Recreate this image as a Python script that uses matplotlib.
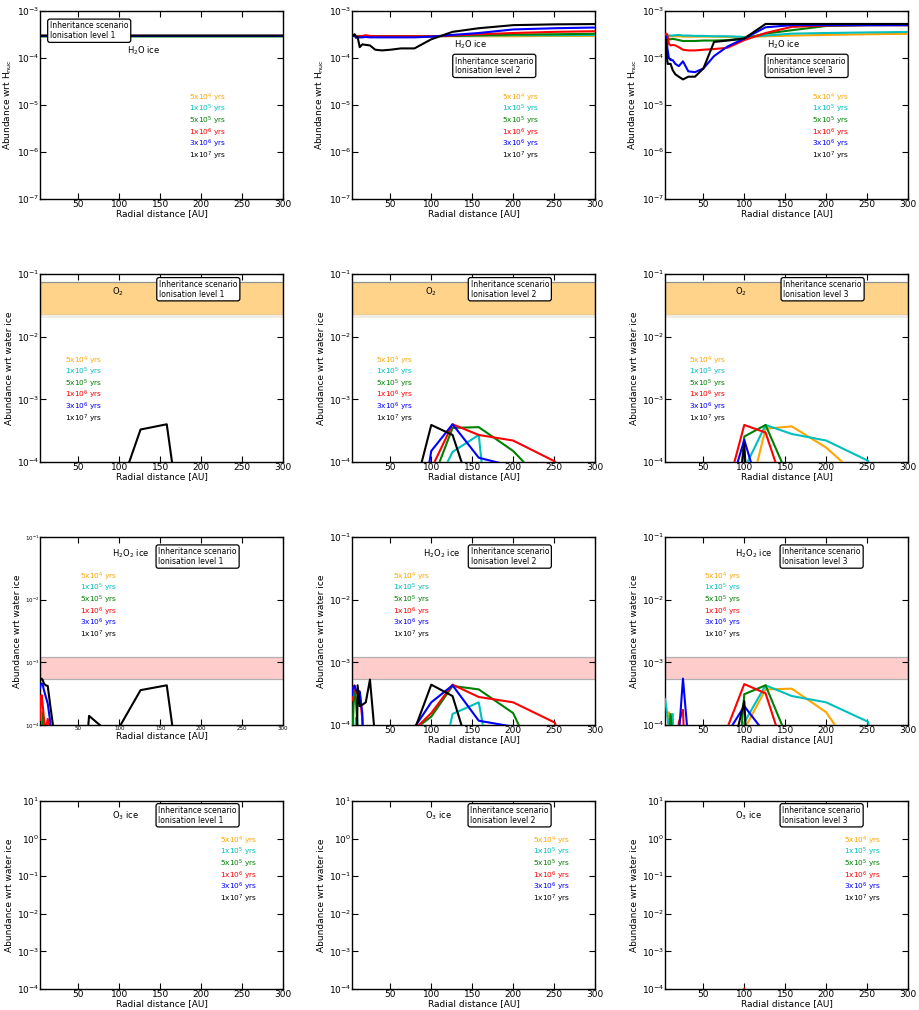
import matplotlib
matplotlib.use('Agg')
import matplotlib.pyplot as plt
from matplotlib.ticker import NullLocator

plt.rcParams['font.family'] = 'DejaVu Sans'
plt.rcParams['mathtext.default'] = 'regular'

# ---------------- data ----------------
ages = ['5x10$^4$ yrs', '1x10$^5$ yrs', '5x10$^5$ yrs', '1x10$^6$ yrs', '3x10$^6$ yrs', '1x10$^7$ yrs']
age_colors = ['#FFA500', '#00BFBF', 'green', 'red', 'blue', 'black']
levels = ['1', '2', '3']
species = ['H$_2$O ice', 'O$_2$', 'H$_2$O$_2$ ice', 'O$_3$ ice']
xticks = [50, 100, 150, 200, 250, 300]

R = [3.16, 3.98, 5.01, 6.31, 7.94, 10.0, 12.6, 15.8, 20.0, 25.1, 31.6, 39.8, 50.1, 63.1, 79.4,
     100.0, 126.0, 158.0, 200.0, 251.0, 316.0]

# H2O ice, level 1
h2o_l1_5e4 = [2.8e-4, 2.9e-4, 2.9e-4, 2.9e-4, 2.9e-4, 2.9e-4, 2.9e-4, 2.9e-4, 2.9e-4, 2.9e-4, 2.9e-4,
              2.9e-4, 2.9e-4, 2.9e-4, 2.9e-4, 2.9e-4, 2.9e-4, 2.9e-4, 2.9e-4, 2.9e-4, 2.9e-4]
h2o_l1_1e5 = [2.8e-4, 2.9e-4, 2.9e-4, 2.9e-4, 2.9e-4, 2.9e-4, 2.9e-4, 2.9e-4, 2.9e-4, 2.9e-4, 2.9e-4,
              2.9e-4, 2.9e-4, 2.9e-4, 2.9e-4, 2.9e-4, 2.9e-4, 2.9e-4, 2.9e-4, 2.9e-4, 2.9e-4]
h2o_l1_5e5 = [2.8e-4, 2.9e-4, 2.9e-4, 2.9e-4, 2.9e-4, 2.9e-4, 2.9e-4, 2.9e-4, 2.9e-4, 2.9e-4, 2.9e-4,
              2.9e-4, 2.9e-4, 2.9e-4, 2.9e-4, 2.9e-4, 2.9e-4, 2.9e-4, 2.9e-4, 2.9e-4, 2.9e-4]
h2o_l1_1e6 = [2.85e-4, 2.95e-4, 2.95e-4, 2.95e-4, 2.95e-4, 2.95e-4, 2.95e-4, 2.95e-4, 2.95e-4, 2.95e-4, 2.95e-4,
              2.95e-4, 2.95e-4, 2.95e-4, 2.95e-4, 2.95e-4, 2.95e-4, 2.95e-4, 2.95e-4, 2.95e-4, 2.95e-4]
h2o_l1_3e6 = [2.85e-4, 2.95e-4, 2.95e-4, 2.95e-4, 2.95e-4, 2.95e-4, 2.95e-4, 2.95e-4, 2.95e-4, 2.95e-4, 2.95e-4,
              2.95e-4, 2.95e-4, 2.95e-4, 2.95e-4, 2.95e-4, 2.95e-4, 2.95e-4, 2.95e-4, 2.95e-4, 2.95e-4]
h2o_l1_1e7 = [2.85e-4, 3.0e-4, 3.0e-4, 3.0e-4, 3.0e-4, 3.0e-4, 3.0e-4, 3.0e-4, 3.0e-4, 3.0e-4, 3.0e-4,
              3.0e-4, 3.0e-4, 3.0e-4, 3.0e-4, 3.0e-4, 3.0e-4, 3.0e-4, 3.0e-4, 3.0e-4, 3.0e-4]

# H2O ice, level 2
h2o_l2_5e4 = [2.9e-4, 3.1e-4, 3.0e-4, 3.1e-4, 2.75e-4, 2.8e-4, 2.85e-4, 2.9e-4, 2.9e-4, 2.9e-4, 2.9e-4,
              2.9e-4, 2.9e-4, 2.9e-4, 2.9e-4, 2.9e-4, 2.9e-4, 2.9e-4, 2.9e-4, 2.95e-4, 2.95e-4]
h2o_l2_1e5 = [2.9e-4, 3.1e-4, 3.0e-4, 3.1e-4, 2.75e-4, 2.8e-4, 2.85e-4, 2.9e-4, 2.9e-4, 2.9e-4, 2.9e-4,
              2.9e-4, 2.9e-4, 2.9e-4, 2.9e-4, 2.9e-4, 2.95e-4, 3.0e-4, 3.05e-4, 3.05e-4, 3.1e-4]
h2o_l2_5e5 = [2.9e-4, 3.1e-4, 3.0e-4, 3.1e-4, 2.8e-4, 2.85e-4, 2.9e-4, 2.9e-4, 2.95e-4, 2.9e-4, 2.9e-4,
              2.9e-4, 2.9e-4, 2.9e-4, 2.9e-4, 2.9e-4, 2.95e-4, 3.05e-4, 3.15e-4, 3.2e-4, 3.3e-4]
h2o_l2_1e6 = [2.9e-4, 3.1e-4, 3.0e-4, 3.1e-4, 2.8e-4, 2.9e-4, 2.9e-4, 2.95e-4, 3.05e-4, 2.95e-4, 2.9e-4,
              2.9e-4, 2.9e-4, 2.9e-4, 2.9e-4, 2.9e-4, 3.0e-4, 3.2e-4, 3.4e-4, 3.6e-4, 3.75e-4]
h2o_l2_3e6 = [2.9e-4, 3.1e-4, 3.0e-4, 3.1e-4, 2.7e-4, 2.75e-4, 2.75e-4, 2.75e-4, 2.8e-4, 2.75e-4, 2.75e-4,
              2.75e-4, 2.75e-4, 2.75e-4, 2.75e-4, 2.85e-4, 3.1e-4, 3.4e-4, 4.05e-4, 4.3e-4, 4.5e-4]
h2o_l2_1e7 = [2.9e-4, 3.1e-4, 3.0e-4, 3.2e-4, 2.9e-4, 2.8e-4, 1.7e-4, 1.95e-4, 1.9e-4, 1.85e-4, 1.5e-4,
              1.45e-4, 1.5e-4, 1.6e-4, 1.6e-4, 2.5e-4, 3.6e-4, 4.3e-4, 5.0e-4, 5.2e-4, 5.3e-4]

# H2O ice, level 3
h2o_l3_5e4 = [2.7e-4, 3.0e-4, 2.95e-4, 2.9e-4, 2.9e-4, 2.9e-4, 2.9e-4, 2.9e-4, 2.9e-4, 2.85e-4, 2.85e-4,
              2.85e-4, 2.85e-4, 2.85e-4, 2.8e-4, 2.8e-4, 2.9e-4, 3.0e-4, 3.1e-4, 3.2e-4, 3.3e-4]
h2o_l3_1e5 = [2.7e-4, 3.1e-4, 3.05e-4, 3.0e-4, 3.0e-4, 3.0e-4, 3.0e-4, 3.05e-4, 3.1e-4, 3.0e-4, 3.0e-4,
              2.95e-4, 2.95e-4, 2.9e-4, 2.9e-4, 2.8e-4, 3.0e-4, 3.3e-4, 3.4e-4, 3.5e-4, 3.6e-4]
h2o_l3_5e5 = [2.8e-4, 3.1e-4, 3.0e-4, 2.7e-4, 2.5e-4, 2.5e-4, 2.55e-4, 2.5e-4, 2.4e-4, 2.3e-4, 2.3e-4,
              2.3e-4, 2.35e-4, 2.35e-4, 2.4e-4, 2.6e-4, 3.3e-4, 3.9e-4, 4.8e-4, 5.0e-4, 5.0e-4]
h2o_l3_1e6 = [2.9e-4, 3.2e-4, 3.3e-4, 3.0e-4, 2.0e-4, 1.85e-4, 1.9e-4, 1.85e-4, 1.7e-4, 1.5e-4, 1.45e-4,
              1.45e-4, 1.5e-4, 1.55e-4, 1.65e-4, 2.4e-4, 3.4e-4, 4.6e-4, 4.9e-4, 5.0e-4, 5.0e-4]
h2o_l3_3e6 = [2.0e-4, 2.9e-4, 2.5e-4, 1.5e-4, 1.0e-4, 9.0e-5, 9.0e-5, 7.5e-5, 6.7e-5, 8.5e-5, 5.2e-5,
              5.0e-5, 6.0e-5, 1.1e-4, 1.75e-4, 2.6e-4, 4.5e-4, 5.0e-4, 5.0e-4, 5.0e-4, 5.0e-4]
h2o_l3_1e7 = [2.2e-4, 2.5e-4, 1.3e-4, 7.5e-5, 7.5e-5, 7.5e-5, 5.5e-5, 4.5e-5, 4.0e-5, 3.5e-5, 4.0e-5,
              4.0e-5, 6.0e-5, 2.2e-4, 2.35e-4, 2.6e-4, 5.3e-4, 5.3e-4, 5.3e-4, 5.3e-4, 5.3e-4]

# O2 ice / water ice (radii, values)
o2_l1_1e7_r = [79.4, 100.0, 126.0, 158.0, 200.0]
o2_l1_1e7 = [1e-7, 3.5e-5, 3.3e-4, 4.0e-4, 4.5e-8]

o2_l2_1e5_r = [100.0, 126.0, 158.0, 200.0]
o2_l2_1e5 = [3e-5, 1.45e-4, 2.7e-4, 1.5e-9]
o2_l2_5e5_r = [79.4, 100.0, 126.0, 158.0, 200.0, 251.0, 316.0]
o2_l2_5e5 = [1e-7, 4.5e-5, 3.5e-4, 3.6e-4, 1.5e-4, 3e-5, 1e-7]
o2_l2_1e6_r = [79.4, 100.0, 126.0, 158.0, 200.0, 251.0, 316.0]
o2_l2_1e6 = [1e-6, 7.8e-5, 4.0e-4, 2.7e-4, 2.2e-4, 1.02e-4, 1e-7]
o2_l2_3e6_r = [79.4, 100.0, 126.0, 158.0, 200.0, 251.0]
o2_l2_3e6 = [3.5e-6, 1.5e-4, 4.0e-4, 1.17e-4, 8.5e-5, 1e-6]
o2_l2_1e7_r = [63.1, 79.4, 100.0, 126.0, 158.0, 200.0]
o2_l2_1e7 = [1e-7, 3.5e-5, 3.9e-4, 2.7e-4, 1.5e-5, 1e-8]

o2_l3_5e4_r = [79.4, 100.0, 126.0, 158.0, 200.0, 251.0, 316.0]
o2_l3_5e4 = [1e-7, 1.4e-5, 3.4e-4, 3.7e-4, 1.7e-4, 4.3e-5, 1e-7]
o2_l3_1e5_r = [79.4, 100.0, 126.0, 158.0, 200.0, 251.0, 316.0]
o2_l3_1e5 = [1e-6, 7.8e-5, 3.9e-4, 2.8e-4, 2.2e-4, 1.05e-4, 1e-7]
o2_l3_5e5_r = [79.4, 100.0, 126.0, 158.0, 200.0]
o2_l3_5e5 = [1e-7, 2.55e-4, 3.9e-4, 4.3e-5, 1e-7]
o2_l3_1e6_r = [63.1, 79.4, 100.0, 126.0, 158.0, 200.0]
o2_l3_1e6 = [1e-7, 3.8e-5, 3.9e-4, 2.95e-4, 1.65e-5, 1e-7]
o2_l3_3e6_r = [63.1, 79.4, 100.0, 126.0, 158.0]
o2_l3_3e6 = [1e-7, 2.8e-5, 2.26e-4, 1.6e-5, 1e-7]
o2_l3_1e7_r = [79.4, 100.0, 126.0]
o2_l3_1e7 = [1e-6, 1.93e-4, 4e-10]

# H2O2 ice / water ice
h2o2_l1_5e5_r = [3.98, 5.01, 6.31, 7.94, 10.0]
h2o2_l1_5e5 = [1e-6, 5e-5, 1.6e-4, 4e-5, 1e-6]
h2o2_l1_1e6_r = [3.16, 3.98, 5.01, 6.31, 7.94, 10.0, 12.6, 15.8, 20.0]
h2o2_l1_1e6 = [1.2e-4, 2.2e-4, 3.0e-4, 2.2e-4, 1.3e-4, 8e-5, 1.25e-4, 8e-5, 1e-6]
h2o2_l1_3e6_r = [3.16, 3.98, 5.01, 6.31, 7.94, 10.0, 12.6, 15.8, 20.0]
h2o2_l1_3e6 = [3.9e-4, 4.4e-4, 4.6e-4, 4.5e-4, 3.6e-4, 2.9e-4, 2.2e-4, 1.1e-4, 1e-6]
h2o2_l1_1e7_r = [3.16, 3.98, 5.01, 6.31, 7.94, 10.0, 12.6, 15.8, 20.0, 25.1, 31.6, 39.8, 50.1, 63.1,
                 79.4, 100.0, 126.0, 158.0, 200.0]
h2o2_l1_1e7 = [5.0e-4, 5.4e-4, 5.5e-4, 5.3e-4, 4.6e-4, 4.3e-4, 4.2e-4, 2.0e-4, 8e-5, 3e-5, 1e-6, 1e-6,
               1e-6, 1.4e-4, 9.2e-5, 9.2e-5, 3.6e-4, 4.3e-4, 4.5e-8]

h2o2_l2_1e5_r = [5.01, 6.31, 7.94, 10.0, 12.6, 100.0, 126.0, 158.0, 200.0]
h2o2_l2_1e5 = [1e-6, 5e-5, 1.3e-4, 5e-5, 1e-6, 4e-6, 1.5e-4, 2.3e-4, 2e-7]
h2o2_l2_5e5_r = [3.16, 3.98, 5.01, 6.31, 7.94, 10.0, 12.6, 79.4, 100.0, 126.0, 158.0, 200.0, 251.0]
h2o2_l2_5e5 = [1e-6, 8e-5, 2.0e-4, 3.5e-4, 2.5e-4, 9e-5, 1e-6, 8.5e-5, 1.36e-4, 4.2e-4, 3.7e-4, 1.55e-4, 6e-6]
h2o2_l2_1e6_r = [3.16, 3.98, 5.01, 6.31, 7.94, 10.0, 12.6, 15.8, 20.0, 79.4, 100.0, 126.0, 158.0, 200.0,
                 251.0, 316.0]
h2o2_l2_1e6 = [2.5e-4, 3.5e-4, 4.0e-4, 4.3e-4, 3.2e-4, 3.6e-4, 3.4e-4, 1.2e-4, 1e-6, 8.5e-5, 1.55e-4,
               4.4e-4, 2.8e-4, 2.3e-4, 1.09e-4, 1e-7]
h2o2_l2_3e6_r = [3.16, 3.98, 5.01, 6.31, 7.94, 10.0, 12.6, 15.8, 20.0, 79.4, 100.0, 126.0, 158.0, 200.0, 251.0]
h2o2_l2_3e6 = [3.0e-4, 3.8e-4, 4.0e-4, 4.2e-4, 3.6e-4, 3.5e-4, 3.4e-4, 1.5e-4, 1e-6, 9.1e-5, 2.3e-4,
               4.3e-4, 1.17e-4, 9.4e-5, 1e-6]
h2o2_l2_1e7_r = [3.16, 3.98, 5.01, 6.31, 7.94, 10.0, 12.6, 15.8, 20.0, 25.1, 31.6, 39.8, 63.1, 79.4,
                 100.0, 126.0, 158.0, 200.0]
h2o2_l2_1e7 = [1e-6, 1e-6, 1e-6, 1e-6, 1e-6, 4.3e-4, 2.0e-4, 2.1e-4, 2.3e-4, 5.3e-4, 5.8e-5, 1e-6, 1e-6,
               8.3e-5, 4.4e-4, 2.9e-4, 1.26e-5, 1e-8]

h2o2_l3_5e4_r = [5.01, 6.31, 7.94, 10.0, 12.6, 100.0, 126.0, 158.0, 200.0, 251.0, 316.0]
h2o2_l3_5e4 = [1e-6, 8e-5, 1.6e-4, 9e-5, 1e-6, 8.5e-5, 3.7e-4, 3.8e-4, 1.6e-4, 1.7e-5, 1e-7]
h2o2_l3_1e5_r = [3.16, 3.98, 5.01, 6.31, 7.94, 10.0, 12.6, 15.8, 79.4, 100.0, 126.0, 158.0, 200.0, 251.0, 316.0]
h2o2_l3_1e5 = [2.6e-4, 2.2e-4, 1.8e-4, 1.3e-4, 8e-5, 1.1e-4, 1.5e-4, 1e-6, 1e-5, 1.1e-4, 4.3e-4, 2.9e-4,
               2.3e-4, 1.13e-4, 1e-7]
h2o2_l3_5e5_r = [6.31, 7.94, 10.0, 12.6, 15.8, 79.4, 100.0, 126.0, 158.0, 200.0]
h2o2_l3_5e5 = [1e-6, 7e-5, 1.5e-4, 6e-5, 1e-6, 1.4e-7, 3.1e-4, 4.3e-4, 4.2e-5, 1e-7]
h2o2_l3_1e6_r = [15.8, 20.0, 25.1, 31.6, 79.4, 100.0, 126.0, 158.0, 200.0]
h2o2_l3_1e6 = [1e-6, 1.1e-4, 1.75e-4, 1e-6, 9.1e-5, 4.5e-4, 3.2e-4, 1.65e-5, 1e-7]
h2o2_l3_3e6_r = [15.8, 20.0, 25.1, 31.6, 39.8, 79.4, 100.0, 126.0, 158.0]
h2o2_l3_3e6 = [1e-6, 6.6e-5, 5.5e-4, 5.6e-5, 1e-6, 7.4e-5, 2.0e-4, 7.2e-5, 1e-7]
h2o2_l3_1e7_r = [79.4, 100.0, 126.0]
h2o2_l3_1e7 = [1.8e-5, 2.4e-4, 1e-10]

# O3 ice / water ice
o3_l3_1e6_r = [79.4, 100.0, 126.0]
o3_l3_1e6 = [1e-8, 1.03e-4, 1e-8]

# reference bands
o2_band = [0.022, 0.074]
h2o2_band = [5.4e-4, 1.22e-3]

# ---------------- assemble ----------------
H2O = [[h2o_l1_5e4, h2o_l1_1e5, h2o_l1_5e5, h2o_l1_1e6, h2o_l1_3e6, h2o_l1_1e7],
       [h2o_l2_5e4, h2o_l2_1e5, h2o_l2_5e5, h2o_l2_1e6, h2o_l2_3e6, h2o_l2_1e7],
       [h2o_l3_5e4, h2o_l3_1e5, h2o_l3_5e5, h2o_l3_1e6, h2o_l3_3e6, h2o_l3_1e7]]
O2 = [{5: (o2_l1_1e7_r, o2_l1_1e7)},
      {1: (o2_l2_1e5_r, o2_l2_1e5), 2: (o2_l2_5e5_r, o2_l2_5e5), 3: (o2_l2_1e6_r, o2_l2_1e6),
       4: (o2_l2_3e6_r, o2_l2_3e6), 5: (o2_l2_1e7_r, o2_l2_1e7)},
      {0: (o2_l3_5e4_r, o2_l3_5e4), 1: (o2_l3_1e5_r, o2_l3_1e5), 2: (o2_l3_5e5_r, o2_l3_5e5),
       3: (o2_l3_1e6_r, o2_l3_1e6), 4: (o2_l3_3e6_r, o2_l3_3e6), 5: (o2_l3_1e7_r, o2_l3_1e7)}]
H2O2 = [{2: (h2o2_l1_5e5_r, h2o2_l1_5e5), 3: (h2o2_l1_1e6_r, h2o2_l1_1e6),
         4: (h2o2_l1_3e6_r, h2o2_l1_3e6), 5: (h2o2_l1_1e7_r, h2o2_l1_1e7)},
        {1: (h2o2_l2_1e5_r, h2o2_l2_1e5), 2: (h2o2_l2_5e5_r, h2o2_l2_5e5), 3: (h2o2_l2_1e6_r, h2o2_l2_1e6),
         4: (h2o2_l2_3e6_r, h2o2_l2_3e6), 5: (h2o2_l2_1e7_r, h2o2_l2_1e7)},
        {0: (h2o2_l3_5e4_r, h2o2_l3_5e4), 1: (h2o2_l3_1e5_r, h2o2_l3_1e5), 2: (h2o2_l3_5e5_r, h2o2_l3_5e5),
         3: (h2o2_l3_1e6_r, h2o2_l3_1e6), 4: (h2o2_l3_3e6_r, h2o2_l3_3e6), 5: (h2o2_l3_1e7_r, h2o2_l3_1e7)}]
O3 = [{}, {}, {3: (o3_l3_1e6_r, o3_l3_1e6)}]

# ---------------- layout ----------------
W, H = 919, 1010
fig = plt.figure(figsize=(W / 100, H / 100), dpi=100)
col_left = [40, 352, 665]
row_top = [11, 274, 537, 801]
ax_w, ax_h = 243, 188

ylims = [(1e-7, 1e-3), (1e-4, 1e-1), (1e-4, 1e-1), (1e-4, 1e1)]
ylabels = ['Abundance wrt H$_{nuc}$', 'Abundance wrt water ice', 'Abundance wrt water ice',
           'Abundance wrt water ice']
species_pos = [[(0.36, 0.79), (0.42, 0.82), (0.42, 0.82)],
               [(0.295, 0.905), (0.30, 0.905), (0.29, 0.905)],
               [(0.295, 0.913), (0.293, 0.913), (0.288, 0.913)],
               [(0.295, 0.92), (0.30, 0.92), (0.29, 0.92)]]
box_pos = [[(0.041, 0.895), (0.424, 0.708), (0.421, 0.708)],
           [(0.49, 0.919), (0.488, 0.919), (0.487, 0.919)],
           [(0.487, 0.896), (0.488, 0.896), (0.483, 0.896)],
           [(0.487, 0.924), (0.487, 0.924), (0.483, 0.924)]]
legend_pos = [[(0.615, 0.539), (0.616, 0.539), (0.606, 0.539)],
              [(0.103, 0.54), (0.099, 0.54), (0.099, 0.54)],
              [(0.165, 0.789), (0.167, 0.789), (0.16, 0.789)],
              [(0.74, 0.789), (0.744, 0.789), (0.738, 0.789)]]
legend_step = 0.0618

for row in range(4):
    for col in range(3):
        l = col_left[col]
        t = row_top[row]
        ax = fig.add_axes([l / W, 1 - (t + ax_h) / H, ax_w / W, ax_h / H])
        ax.set_yscale('log')
        ax.set_xlim(3.16, 300)
        ax.set_ylim(*ylims[row])
        ax.set_xticks(xticks)
        ax.set_xticklabels([str(v) for v in xticks])
        ax.yaxis.set_minor_locator(NullLocator())
        ax.xaxis.set_minor_locator(NullLocator())
        lsize = 4 if (row == 2 and col == 0) else 6.5
        ax.tick_params(which='both', direction='in', top=True, right=True, length=4, width=0.8,
                       labelsize=lsize, pad=0.5)
        for sp in ax.spines.values():
            sp.set_linewidth(1.0)
        ax.set_xlabel('Radial distance [AU]', fontsize=6.5, labelpad=0.5)
        ax.set_ylabel(ylabels[row], fontsize=6.5, labelpad=2)

        if row == 0:
            for k in range(6):
                ax.plot(R, H2O[col][k], color=age_colors[k], lw=1.5, zorder=3)
        else:
            data = [O2, H2O2, O3][row - 1][col]
            for k in range(6):
                if k in data:
                    rr, vv = data[k]
                    ax.plot(rr, vv, color=age_colors[k], lw=1.5, zorder=3)
        if row == 1:
            ax.axhspan(o2_band[0], o2_band[1], facecolor='#FFD48A', edgecolor='#909090', lw=0.9, zorder=1)
            ax.axhspan(0.0200, o2_band[0], facecolor='#F0EDE6', edgecolor='none', zorder=1)
        if row == 2:
            ax.axhspan(h2o2_band[0], h2o2_band[1], facecolor='#FFCCCC', edgecolor='#B0B0B0', lw=0.9, zorder=1)

        sx, sy = species_pos[row][col]
        ax.text(sx, sy, species[row], transform=ax.transAxes, fontsize=6, ha='left', va='center', zorder=5)
        bx, by = box_pos[row][col]
        ax.text(bx, by, 'Inheritance scenario\nIonisation level ' + levels[col], transform=ax.transAxes,
                fontsize=5.5, ha='left', va='center', linespacing=1.1, zorder=6,
                bbox=dict(boxstyle='round,pad=0.3', facecolor='white', edgecolor='black', lw=0.9))
        lx, ly = legend_pos[row][col]
        for k in range(6):
            ax.text(lx, ly - k * legend_step, ages[k], transform=ax.transAxes, fontsize=5.3,
                    color=age_colors[k], ha='left', va='center', zorder=5)

fig.savefig('out.png', dpi=100)
